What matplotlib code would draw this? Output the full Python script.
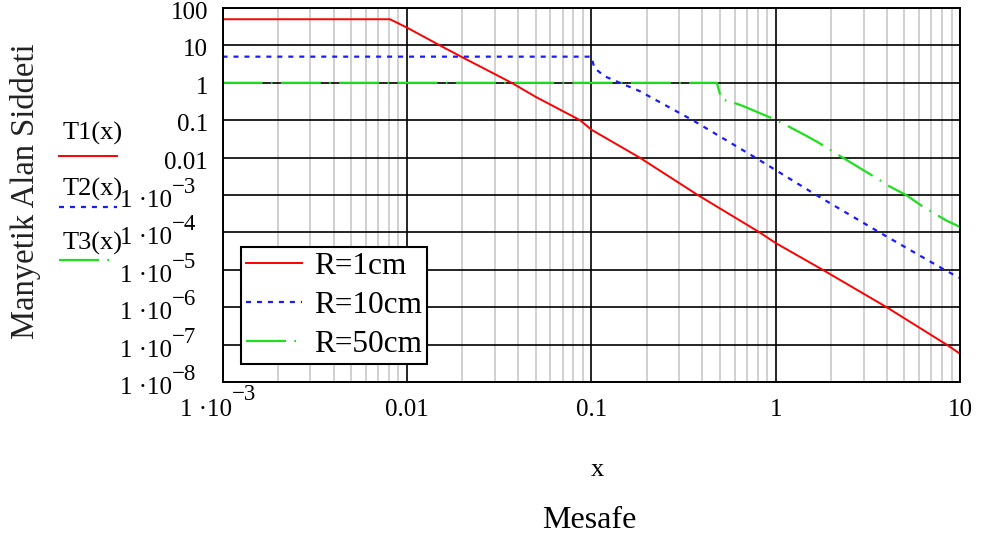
import matplotlib
matplotlib.use('Agg')
import matplotlib.pyplot as plt
from matplotlib.lines import Line2D
from matplotlib.ticker import LogLocator, NullLocator
from matplotlib.transforms import offset_copy

plt.rcParams['font.family'] = ['Liberation Serif', 'DejaVu Serif']
plt.rcParams['lines.scale_dashes'] = False

# T1(x), R = 1 cm
x1 = [0.001, 0.0081, 0.01, 0.0151, 0.02, 0.037, 0.05, 0.087, 0.1, 0.183,
      0.378, 0.819, 1.0, 1.8, 4.0, 8.45, 10]
t1 = [50, 50, 30, 10, 4.8, 1.0, 0.42, 0.1, 0.056, 0.01,
      1e-3, 1e-4, 5.2e-5, 1e-5, 1e-6, 1e-7, 5.7e-8]

# T2(x), R = 10 cm
x2 = [0.001, 0.1, 0.104, 0.118, 0.143, 0.183, 0.355, 0.776, 1.66, 3.66, 8.24, 10]
t2 = [5, 5, 2.5, 1.5, 1.0, 0.6, 0.1, 0.01, 1e-3, 1e-4, 1e-5, 6e-6]

# T3(x), R = 50 cm
x3 = [0.001, 0.48, 0.508, 0.575, 0.665, 0.966, 1.07, 1.47, 1.69, 2.31,
      3.58, 4.06, 5.1, 6.17, 8.4, 10]
t3 = [1, 1, 0.36, 0.31, 0.24, 0.11, 0.087, 0.038, 0.026, 0.01,
      2.7e-3, 1.8e-3, 1e-3, 5.2e-4, 2.1e-4, 1.4e-4]

series_names = ['R=1cm', 'R=10cm', 'R=50cm']
func_names = ['T1(x)', 'T2(x)', 'T3(x)']

xticks = [1e-3, 1e-2, 1e-1, 1, 10]
xtick_text = ['-3', '0.01', '0.1', '1', '10']
yticks = [100, 10, 1, 0.1, 0.01, 1e-3, 1e-4, 1e-5, 1e-6, 1e-7, 1e-8]
ytick_text = ['100', '10', '1', '0.1', '0.01', '-3', '-4', '-5', '-6', '-7', '-8']

colors = ['#ff0000', '#1a1aff', '#1ee01e']
styles = ['-', (0, (3.6, 4.3)), (0, (28.8, 6, 1.2, 6))]
widths = [1.4, 1.6, 1.6]

W, H = 983, 539
fig = plt.figure(figsize=(W / 100, H / 100), dpi=100)
ax = fig.add_axes([222.5 / W, 1 - 382 / H, 737.5 / W, 374 / H])

for xs, ys, c, s, w, n in zip([x1, x2, x3], [t1, t2, t3], colors, styles, widths, series_names):
    ax.plot(xs, ys, color=c, ls=s, lw=w, label=n)

ax.set_xscale('log')
ax.set_yscale('log')
ax.set_xlim(1e-3, 10)
ax.set_ylim(1e-8, 100)
ax.set_xticks(xticks)
ax.set_yticks(yticks)
ax.xaxis.set_minor_locator(LogLocator(base=10, subs=range(2, 10), numticks=20))
ax.yaxis.set_minor_locator(NullLocator())
ax.set_axisbelow(True)
ax.grid(which='major', color='black', lw=1.2)
ax.grid(which='minor', axis='x', color='#c8c8c8', lw=1.2)
ax.tick_params(which='both', length=0, labelbottom=False, labelleft=False)
for sp in ax.spines.values():
    sp.set_linewidth(1.4)

# tick labels, Mathcad style "1 ·10" with raised exponent
ytr = ax.get_yaxis_transform()
for v, s in zip(yticks, ytick_text):
    if s.startswith('-'):
        ax.text(0, v, '1 ·10', transform=offset_copy(ytr, x=-50.5, y=-6, units='dots'),
                ha='right', va='center', fontsize=18)
        ax.text(0, v, '\u2212' + s[1:], transform=offset_copy(ytr, x=-51, y=7.5, units='dots'),
                ha='left', va='center', fontsize=16.5)
    else:
        ax.text(0, v, s, transform=offset_copy(ytr, x=-14.5, y=-5, units='dots'),
                ha='right', va='center', fontsize=18)

xtr = ax.get_xaxis_transform()
for v, s in zip(xticks, xtick_text):
    if s.startswith('-'):
        ax.text(v, 0, '1 ·10', transform=offset_copy(xtr, x=9.5, y=-28, units='dots'),
                ha='right', va='center', fontsize=18)
        ax.text(v, 0, '\u2212' + s[1:], transform=offset_copy(xtr, x=9, y=-13, units='dots'),
                ha='left', va='center', fontsize=16.5)
    else:
        ax.text(v, 0, s, transform=offset_copy(xtr, x=0, y=-28, units='dots'),
                ha='center', va='center', fontsize=18)

leg = ax.legend(loc='lower left', bbox_to_anchor=(18.5 / 737.5, 18 / 374),
                borderaxespad=0, fontsize=22.5, handlelength=1.8, handletextpad=0.4,
                labelspacing=0.33, borderpad=0.15, fancybox=False, framealpha=1,
                edgecolor='black')
leg.get_frame().set_linewidth(1.5)


def px(x, y):
    return x / W, 1 - y / H


# trace names on the left, as Mathcad draws them
for i, name in enumerate(func_names):
    ty = [133, 189, 243][i]
    ly = [156, 207, 260][i]
    fig.text(*px(93, ty), name, ha='center', va='center', fontsize=19)
    fig.add_artist(Line2D([59 / W, 117 / W], [1 - ly / H] * 2, color=colors[i],
                          ls=styles[i], lw=widths[i]))

fig.text(*px(26, 191), 'Manyetik Alan Siddeti', rotation=90, ha='center', va='center',
         fontsize=23.5, color='#222222')
fig.text(*px(597, 470), 'x', ha='center', va='center', fontsize=19)
fig.text(*px(589, 520), 'Mesafe', ha='center', va='center', fontsize=23)

fig.savefig('out.png', dpi=100, facecolor='white')
